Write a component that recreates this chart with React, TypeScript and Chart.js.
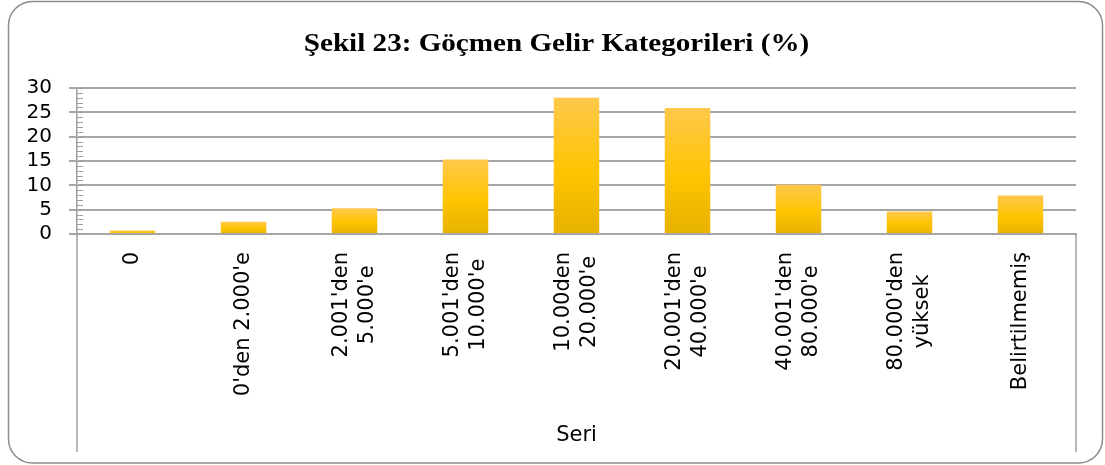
import React, { useEffect, useRef } from "react";
import { Chart, registerables } from "chart.js";

Chart.register(...registerables);

const titleText = "Şekil 23: Göçmen Gelir Kategorileri (%)";
const axisTitle = "Seri";
const categories: string[][] = [
  ["0"],
  ["0'den 2.000'e"],
  ["2.001'den", "5.000'e"],
  ["5.001'den", "10.000'e"],
  ["10.00den", "20.000'e"],
  ["20.001'den", "40.000'e"],
  ["40.001'den", "80.000'e"],
  ["80.000'den", "yüksek"],
  ["Belirtilmemiş"],
];
const values = [0.7, 2.5, 5.3, 15.3, 28.0, 25.9, 10.1, 4.6, 7.9];
const yMin = 0;
const yMax = 30;
const yStep = 5;
const minorStep = 1;

const W = 1105;
const H = 465;
const LABEL_FONT = '21px "DejaVu Sans", sans-serif';

const framePlugin = {
  id: "frame",
  beforeDraw(chart: any) {
    const ctx = chart.ctx;
    ctx.save();
    ctx.fillStyle = "#ffffff";
    ctx.fillRect(0, 0, W, H);
    const x = 8.5, y = 1.5, w = 1094, h = 461.5, r = 24;
    ctx.beginPath();
    ctx.moveTo(x + r, y);
    ctx.lineTo(x + w - r, y);
    ctx.arcTo(x + w, y, x + w, y + r, r);
    ctx.lineTo(x + w, y + h - r);
    ctx.arcTo(x + w, y + h, x + w - r, y + h, r);
    ctx.lineTo(x + r, y + h);
    ctx.arcTo(x, y + h, x, y + h - r, r);
    ctx.lineTo(x, y + r);
    ctx.arcTo(x, y, x + r, y, r);
    ctx.closePath();
    ctx.strokeStyle = "#8c8c8c";
    ctx.lineWidth = 1.5;
    ctx.stroke();
    ctx.restore();
  },
  afterDraw(chart: any) {
    const ctx = chart.ctx;
    const area = chart.chartArea;
    const yScale = chart.scales.y;
    const xScale = chart.scales.x;
    ctx.save();
    // minor ticks inside the plot
    ctx.strokeStyle = "#a0a0a0";
    ctx.lineWidth = 1;
    for (let v = yMin; v <= yMax; v += minorStep) {
      const py = Math.round(yScale.getPixelForValue(v)) + 0.5;
      ctx.beginPath();
      ctx.moveTo(area.left, py);
      ctx.lineTo(area.left + 6, py);
      ctx.stroke();
    }
    // category axis box sides
    ctx.strokeStyle = "#a0a0a0";
    ctx.lineWidth = 1.5;
    ctx.beginPath();
    ctx.moveTo(area.left, area.bottom);
    ctx.lineTo(area.left, xScale.bottom + 1);
    ctx.moveTo(area.right, area.bottom);
    ctx.lineTo(area.right, xScale.bottom + 1);
    ctx.stroke();
    ctx.restore();

    // rotated category labels
    ctx.save();
    ctx.font = LABEL_FONT;
    ctx.fillStyle = "#000000";
    ctx.textAlign = "center";
    ctx.textBaseline = "middle";
    const lh = 26;
    const topEnd = area.bottom + 18;
    categories.forEach((lines, i) => {
      const cx = xScale.getPixelForTick(i);
      const maxW = Math.max(...lines.map((l) => ctx.measureText(l).width));
      ctx.save();
      ctx.translate(cx, topEnd + maxW / 2);
      ctx.rotate(-Math.PI / 2);
      lines.forEach((l, j) => {
        ctx.fillText(l, 0, (j - (lines.length - 1) / 2) * lh);
      });
      ctx.restore();
    });
    ctx.restore();

    // chart title
    ctx.save();
    ctx.fillStyle = "#000000";
    ctx.font = 'bold 26px "Liberation Serif", "Times New Roman", serif';
    ctx.textAlign = "center";
    ctx.textBaseline = "alphabetic";
    ctx.translate(556.5, 51);
    ctx.scale(1.12, 1);
    ctx.fillText(titleText, 0, 0);
    ctx.restore();
  },
};

function barGradient(context: any) {
  const chart = context.chart;
  const yScale = chart.scales && chart.scales.y;
  const v = context.raw;
  if (!chart.chartArea || !yScale || typeof v !== "number") return "#ffc400";
  const top = yScale.getPixelForValue(v);
  const bottom = yScale.getPixelForValue(0);
  if (!isFinite(top) || !isFinite(bottom) || top === bottom) return "#ffc400";
  const g = chart.ctx.createLinearGradient(0, top, 0, bottom);
  g.addColorStop(0, "#ffc84c");
  g.addColorStop(0.55, "#ffc400");
  g.addColorStop(1, "#e6b200");
  return g;
}

export default function App() {
  const ref = useRef<HTMLCanvasElement | null>(null);
  useEffect(() => {
    if (!ref.current) return;
    const chart = new Chart(ref.current, {
      type: "bar",
      data: {
        labels: categories,
        datasets: [
          {
            label: axisTitle,
            data: values,
            backgroundColor: barGradient,
            borderWidth: 0,
            categoryPercentage: 1,
            barPercentage: 0.41,
          },
        ],
      },
      options: {
        responsive: false,
        animation: false,
        devicePixelRatio: 1,
        layout: { padding: { left: 0, right: 29, top: 88, bottom: 14 } },
        plugins: {
          legend: { display: false },
          title: { display: false },
          tooltip: { enabled: false },
        },
        scales: {
          x: {
            afterFit: (s: any) => {
              s.height = 217;
            },
            grid: { display: false, drawTicks: false },
            border: { display: true, color: "#a6a6a6", width: 2 },
            ticks: { display: false, autoSkip: false },
            title: {
              display: true,
              text: axisTitle,
              color: "#000000",
              font: { family: '"DejaVu Sans", sans-serif', size: 21 },
              padding: { top: 0, bottom: 3 },
            },
          },
          y: {
            min: yMin,
            max: yMax,
            afterFit: (s: any) => {
              s.width = 77;
            },
            grid: {
              color: "#a6a6a6",
              lineWidth: 2,
              drawTicks: true,
              tickLength: 8,
            },
            border: { display: true, color: "#a0a0a0", width: 1.5 },
            ticks: {
              stepSize: yStep,
              autoSkip: false,
              color: "#000000",
              font: { family: '"DejaVu Sans", sans-serif', size: 20 },
              padding: 17,
            },
          },
        },
      },
      plugins: [framePlugin],
    });
    return () => chart.destroy();
  }, []);
  return (
    <div style={{ position: "absolute", left: 0, top: 0, width: W, height: H }}>
      <canvas ref={ref} width={W} height={H} style={{ width: W, height: H, display: "block" }} />
    </div>
  );
}
